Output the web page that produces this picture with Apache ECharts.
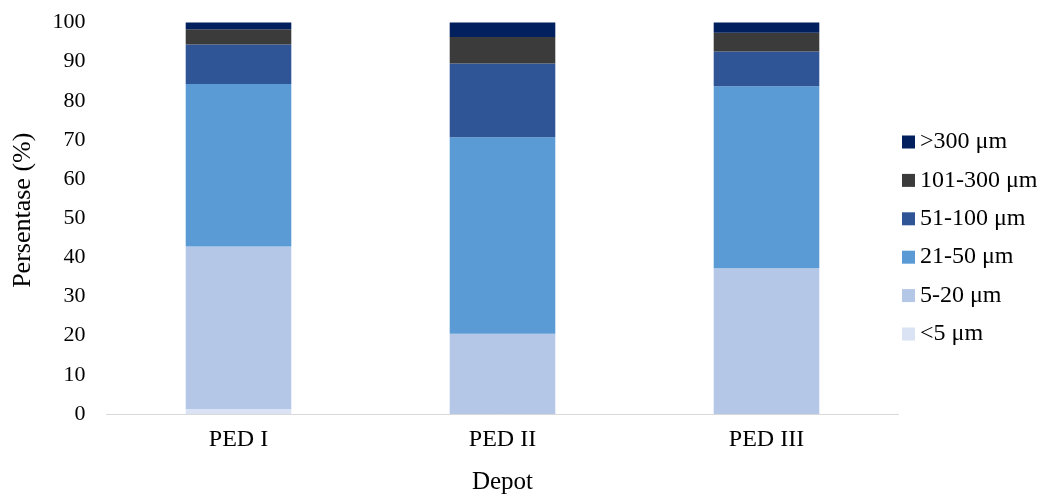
<!DOCTYPE html>
<html>
<head>
<meta charset="utf-8">
<script src="https://cdn.jsdelivr.net/npm/echarts@6/dist/echarts.min.js"></script>
<style>html,body{margin:0;padding:0;background:#fff}#c{width:1038px;height:500px}</style>
</head>
<body>
<div id="c"></div>
<script>
const categories = ['PED I', 'PED II', 'PED III'];
const seriesNames = ['<5 μm', '5-20 μm', '21-50 μm', '51-100 μm', '101-300 μm', '>300 μm'];
const lt5 = [1.3, 0, 0];
const s5_20 = [41.5, 20.5, 37.2];
const s21_50 = [41.5, 50.2, 46.5];
const s51_100 = [10.1, 18.8, 8.9];
const s101_300 = [3.9, 6.8, 4.8];
const gt300 = [1.7, 3.7, 2.6];
const yTicks = { min: 0, max: 100, interval: 10 };

const values = [lt5, s5_20, s21_50, s51_100, s101_300, gt300];
const colors = ['#dae3f3', '#b4c7e7', '#5b9bd5', '#2f5597', '#3b3b3b', '#021f5e'];
const font = 'Liberation Serif';

const chart = echarts.init(document.getElementById('c'), null, { renderer: 'canvas' });
chart.setOption({
  animation: false,
  textStyle: { fontFamily: font },
  grid: { left: 106.5, right: 139.5, top: 22.5, bottom: 83 },
  legend: {
    orient: 'vertical',
    left: 897,
    top: 125,
    itemWidth: 13,
    itemHeight: 13,
    itemGap: 14.4,
    icon: 'rect',
    data: seriesNames.slice().reverse(),
    textStyle: { fontFamily: font, fontSize: 24, color: '#000' }
  },
  xAxis: {
    type: 'category',
    data: categories,
    name: 'Depot',
    nameLocation: 'middle',
    nameGap: 56,
    nameTextStyle: { fontFamily: font, fontSize: 25, color: '#000' },
    axisLine: { lineStyle: { color: '#d9d9d9', width: 1 } },
    axisTick: { show: false },
    axisLabel: { fontFamily: font, fontSize: 24, color: '#000', margin: 14 }
  },
  yAxis: {
    type: 'value',
    min: yTicks.min, max: yTicks.max, interval: yTicks.interval,
    name: 'Persentase (%)',
    nameLocation: 'middle',
    nameGap: 70,
    nameTextStyle: { fontFamily: font, fontSize: 26, color: '#000', padding: [0, 0, 0, 16] },
    axisLine: { show: false },
    axisTick: { show: false },
    splitLine: { show: false },
    axisLabel: { fontFamily: font, fontSize: 22, color: '#000', margin: 21 }
  },
  series: seriesNames.map((n, i) => ({
    name: n,
    type: 'bar',
    stack: 'total',
    barWidth: '40%',
    data: values[i],
    itemStyle: { color: colors[i] }
  }))
});
</script>
</body>
</html>
